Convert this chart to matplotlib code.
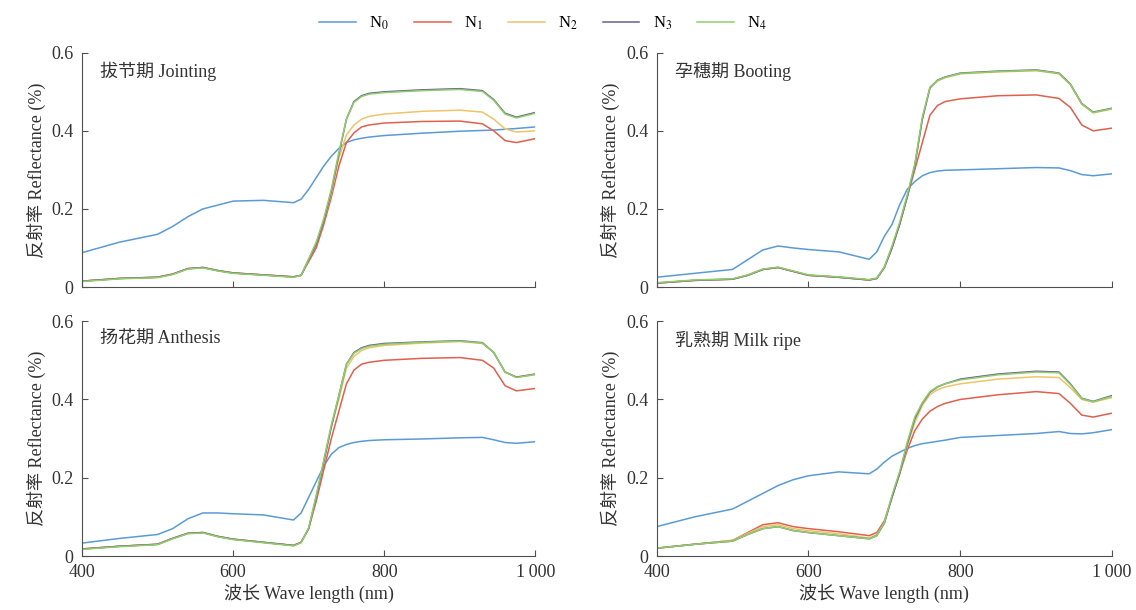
import numpy as np
import matplotlib.pyplot as plt

plt.rcParams['font.family'] = ['Liberation Serif', 'Noto Sans CJK SC']
plt.rcParams['mathtext.fontset'] = 'stix'

# wavelength grid (nm)
wl = [400, 450, 500, 520, 540, 560, 580, 600, 640, 680, 690, 700, 710, 720,
      730, 740, 750, 760, 770, 780, 800, 850, 900, 930, 945, 960, 975, 1000]

# 拔节期 Jointing
j_n0 = [0.088, 0.115, 0.135, 0.155, 0.18, 0.20, 0.21, 0.22, 0.222, 0.216, 0.225, 0.25, 0.28, 0.31,
        0.335, 0.355, 0.37, 0.377, 0.381, 0.384, 0.388, 0.394, 0.399, 0.401, 0.402, 0.404, 0.406, 0.41]
j_n1 = [0.015, 0.022, 0.025, 0.033, 0.047, 0.05, 0.042, 0.036, 0.031, 0.026, 0.03, 0.065, 0.10, 0.16,
        0.23, 0.31, 0.37, 0.395, 0.41, 0.415, 0.42, 0.424, 0.425, 0.418, 0.40, 0.375, 0.37, 0.38]
j_n2 = [0.015, 0.022, 0.025, 0.033, 0.047, 0.05, 0.042, 0.036, 0.031, 0.026, 0.03, 0.07, 0.11, 0.17,
        0.24, 0.33, 0.39, 0.415, 0.43, 0.437, 0.443, 0.45, 0.453, 0.448, 0.43, 0.405, 0.397, 0.40]
j_n3 = [0.015, 0.022, 0.025, 0.033, 0.047, 0.05, 0.042, 0.036, 0.031, 0.026, 0.03, 0.07, 0.11, 0.17,
        0.245, 0.34, 0.43, 0.475, 0.49, 0.496, 0.50, 0.505, 0.508, 0.503, 0.48, 0.445, 0.435, 0.447]
j_n4 = [0.014, 0.021, 0.024, 0.032, 0.046, 0.049, 0.041, 0.035, 0.030, 0.025, 0.03, 0.072, 0.115, 0.175,
        0.25, 0.345, 0.43, 0.473, 0.488, 0.494, 0.498, 0.503, 0.506, 0.501, 0.478, 0.443, 0.433, 0.445]

# 孕穗期 Booting
b_n0 = [0.025, 0.035, 0.045, 0.07, 0.095, 0.105, 0.10, 0.096, 0.09, 0.071, 0.09, 0.13, 0.16, 0.21,
        0.25, 0.27, 0.285, 0.293, 0.297, 0.299, 0.30, 0.303, 0.306, 0.305, 0.298, 0.288, 0.285, 0.29]
b_n1 = [0.01, 0.017, 0.02, 0.03, 0.045, 0.05, 0.04, 0.03, 0.025, 0.018, 0.022, 0.05, 0.10, 0.16,
        0.23, 0.30, 0.37, 0.44, 0.465, 0.475, 0.482, 0.49, 0.492, 0.483, 0.46, 0.415, 0.40, 0.407]
b_n2 = [0.01, 0.017, 0.02, 0.03, 0.045, 0.05, 0.04, 0.03, 0.025, 0.018, 0.022, 0.05, 0.10, 0.16,
        0.23, 0.31, 0.43, 0.51, 0.528, 0.536, 0.546, 0.551, 0.554, 0.546, 0.518, 0.468, 0.446, 0.456]
b_n3 = [0.01, 0.017, 0.02, 0.03, 0.045, 0.05, 0.04, 0.03, 0.025, 0.018, 0.022, 0.05, 0.10, 0.16,
        0.23, 0.31, 0.43, 0.51, 0.53, 0.538, 0.548, 0.553, 0.556, 0.548, 0.52, 0.47, 0.448, 0.458]
b_n4 = [0.011, 0.018, 0.021, 0.031, 0.046, 0.051, 0.041, 0.031, 0.026, 0.019, 0.023, 0.052, 0.105, 0.165,
        0.235, 0.315, 0.435, 0.512, 0.529, 0.537, 0.547, 0.552, 0.555, 0.547, 0.519, 0.469, 0.447, 0.457]

# 扬花期 Anthesis
a_n0 = [0.033, 0.045, 0.055, 0.07, 0.095, 0.11, 0.11, 0.108, 0.105, 0.092, 0.11, 0.15, 0.19, 0.23,
        0.26, 0.277, 0.285, 0.29, 0.293, 0.295, 0.297, 0.299, 0.302, 0.303, 0.297, 0.29, 0.288, 0.292]
a_n1 = [0.018, 0.025, 0.03, 0.045, 0.058, 0.06, 0.05, 0.043, 0.035, 0.027, 0.035, 0.07, 0.14, 0.22,
        0.30, 0.37, 0.44, 0.475, 0.49, 0.495, 0.50, 0.505, 0.507, 0.50, 0.48, 0.435, 0.422, 0.428]
a_n2 = [0.018, 0.025, 0.03, 0.045, 0.058, 0.06, 0.05, 0.043, 0.035, 0.027, 0.035, 0.07, 0.15, 0.24,
        0.33, 0.40, 0.48, 0.51, 0.525, 0.532, 0.538, 0.544, 0.548, 0.543, 0.52, 0.47, 0.457, 0.463]
a_n3 = [0.018, 0.025, 0.03, 0.045, 0.058, 0.06, 0.05, 0.043, 0.035, 0.027, 0.035, 0.07, 0.15, 0.24,
        0.33, 0.41, 0.49, 0.52, 0.532, 0.538, 0.543, 0.547, 0.55, 0.545, 0.52, 0.47, 0.457, 0.465]
a_n4 = [0.017, 0.024, 0.029, 0.044, 0.057, 0.059, 0.049, 0.042, 0.034, 0.026, 0.034, 0.072, 0.155, 0.245,
        0.335, 0.41, 0.49, 0.518, 0.53, 0.536, 0.541, 0.546, 0.549, 0.544, 0.52, 0.47, 0.456, 0.464]

# 乳熟期 Milk ripe
m_n0 = [0.075, 0.10, 0.12, 0.14, 0.16, 0.18, 0.195, 0.205, 0.215, 0.21, 0.222, 0.24, 0.255, 0.265,
        0.275, 0.282, 0.287, 0.29, 0.293, 0.296, 0.303, 0.308, 0.313, 0.318, 0.313, 0.312, 0.315, 0.323]
m_n1 = [0.02, 0.03, 0.04, 0.06, 0.08, 0.085, 0.075, 0.07, 0.062, 0.052, 0.06, 0.09, 0.15, 0.21,
        0.27, 0.32, 0.35, 0.37, 0.382, 0.39, 0.40, 0.412, 0.42, 0.415, 0.39, 0.36, 0.355, 0.365]
m_n2 = [0.02, 0.03, 0.04, 0.058, 0.075, 0.08, 0.07, 0.065, 0.057, 0.046, 0.055, 0.085, 0.15, 0.21,
        0.28, 0.34, 0.385, 0.412, 0.425, 0.432, 0.44, 0.452, 0.458, 0.456, 0.43, 0.40, 0.393, 0.405]
m_n3 = [0.02, 0.03, 0.038, 0.055, 0.07, 0.075, 0.065, 0.06, 0.052, 0.044, 0.052, 0.084, 0.15, 0.21,
        0.285, 0.35, 0.39, 0.418, 0.432, 0.44, 0.452, 0.465, 0.472, 0.47, 0.44, 0.403, 0.395, 0.41]
m_n4 = [0.02, 0.03, 0.038, 0.055, 0.07, 0.075, 0.065, 0.06, 0.052, 0.044, 0.052, 0.086, 0.155, 0.215,
        0.29, 0.355, 0.392, 0.42, 0.433, 0.44, 0.45, 0.463, 0.47, 0.468, 0.438, 0.402, 0.394, 0.408]

stages = ['拔节期 Jointing', '孕穗期 Booting', '扬花期 Anthesis', '乳熟期 Milk ripe']
series = [[j_n0, j_n1, j_n2, j_n3, j_n4],
          [b_n0, b_n1, b_n2, b_n3, b_n4],
          [a_n0, a_n1, a_n2, a_n3, a_n4],
          [m_n0, m_n1, m_n2, m_n3, m_n4]]
labels = [r'N$_0$', r'N$_1$', r'N$_2$', r'N$_3$', r'N$_4$']
colors = ['#5b9bd5', '#e0604e', '#efc46a', '#6b5b95', '#8fcf6a']

fig = plt.figure(figsize=(11.36, 6.10), dpi=100)

# axes positions [left, bottom, width, height]
pos = [[0.0722, 0.5295, 0.399, 0.384],
       [0.578, 0.5295, 0.401, 0.384],
       [0.0722, 0.0885, 0.399, 0.385],
       [0.578, 0.0885, 0.401, 0.385]]

for i in range(4):
    ax = fig.add_axes(pos[i])
    for k in range(5):
        ax.plot(wl, series[i][k], color=colors[k], lw=1.1, label=labels[k])
    ax.set_xlim(400, 1000)
    ax.set_ylim(0, 0.6)
    ax.set_yticks([0, 0.2, 0.4, 0.6])
    ax.set_yticklabels(['0', '0.2', '0.4', '0.6'], fontsize=13, color='#333333')
    ax.set_xticks([400, 600, 800, 1000])
    if i >= 2:
        ax.set_xticklabels(['400', '600', '800', '1\u2009000'], fontsize=13, color='#333333')
        ax.set_xlabel('波长 Wave length (nm)', fontsize=13, labelpad=2, color='#333333')
    else:
        ax.set_xticklabels([])
    ax.set_ylabel('反射率 Reflectance (%)', fontsize=13, labelpad=4, color='#333333')
    ax.spines['right'].set_visible(False)
    ax.spines['top'].set_visible(False)
    ax.spines['left'].set_color('#505050')
    ax.spines['bottom'].set_color('#505050')
    ax.tick_params(direction='in', length=4, color='#505050', pad=6)
    ax.text(0.04, 0.96, stages[i], transform=ax.transAxes, fontsize=13,
            va='top', ha='left', color='#333333')
    if i == 0:
        handles, hl = ax.get_legend_handles_labels()

fig.legend(handles, hl, loc='upper center', bbox_to_anchor=(0.478, 1.0), ncol=5,
           frameon=False, fontsize=12, handlelength=2.2, columnspacing=1.5)

fig.savefig('out.png', dpi=100)
